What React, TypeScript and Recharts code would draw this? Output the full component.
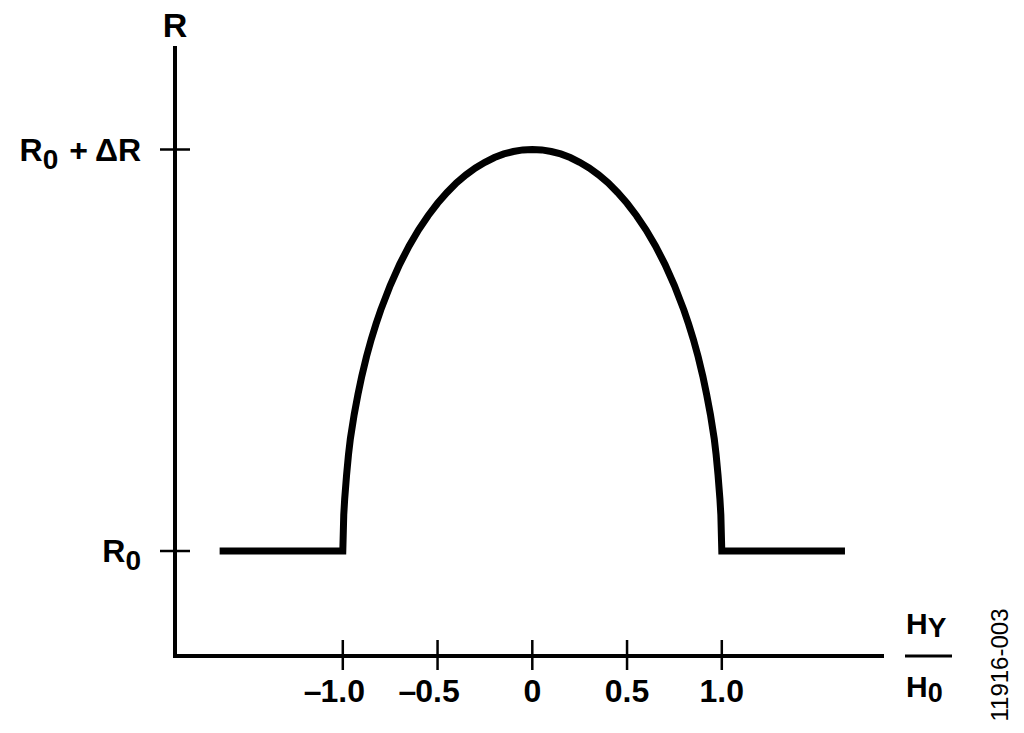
import { LineChart, Line, XAxis, YAxis, Customized } from 'recharts';

// H_Y / H_0 positions, with R in units of ΔR above R0
const hRatio = [
  -1.65, -1.0, -0.995, -0.99, -0.98, -0.97, -0.96, -0.94, -0.92, -0.9, -0.875, -0.85, -0.825,
  -0.8, -0.75, -0.7, -0.65, -0.6, -0.55, -0.5, -0.45, -0.4, -0.35, -0.3, -0.25, -0.2, -0.15,
  -0.1, -0.05, 0, 0.05, 0.1, 0.15, 0.2, 0.25, 0.3, 0.35, 0.4, 0.45, 0.5, 0.55, 0.6, 0.65, 0.7,
  0.75, 0.8, 0.825, 0.85, 0.875, 0.9, 0.92, 0.94, 0.96, 0.97, 0.98, 0.99, 0.995, 1.0, 1.65,
];
const resistance = [
  0, 0, 0.09, 0.13, 0.19, 0.24, 0.28, 0.34, 0.39, 0.435, 0.484, 0.527, 0.565,
  0.6, 0.661, 0.714, 0.76, 0.8, 0.835, 0.866, 0.893, 0.917, 0.937, 0.954, 0.968, 0.98, 0.989,
  0.995, 0.999, 1, 0.999, 0.995, 0.989, 0.98, 0.968, 0.954, 0.937, 0.917, 0.893, 0.866, 0.835,
  0.8, 0.76, 0.714, 0.661, 0.6, 0.565, 0.527, 0.484, 0.435, 0.39, 0.34, 0.28, 0.24, 0.19,
  0.13, 0.09, 0, 0,
];
const xTicks = [-1, -0.5, 0, 0.5, 1];
const xTickLabels = ['\u20131.0', '\u20130.5', '0', '0.5', '1.0'];
const yTicks = [0, 1];

const data = hRatio.map((h, i) => ({ h, r: resistance[i] }));

const FONT = '"Liberation Sans", Arial, sans-serif';
const TICK_FONT = 32;

function XTick({ x, y, index }: any) {
  const label: string = xTickLabels[index];
  const neg = label.startsWith('\u2013');
  const num = neg ? label.slice(1) : label;
  // digits 0.556em, point 0.278em: keep the number centred, let the dash hang left
  const half = (num.replace('.', '').length * 0.556 + (num.includes('.') ? 0.278 : 0)) * TICK_FONT / 2;
  const common = { fontFamily: FONT, fontWeight: 'bold', fontSize: TICK_FONT, fill: '#000' };
  return (
    <g>
      <line x1={x} x2={x} y1={y - 16} y2={y + 14} stroke="#000" strokeWidth={2.5} />
      <text x={x} y={y + 46} textAnchor="middle" {...common}>{num}</text>
      {neg && (
        <text x={x - half + 1} y={y + 46} textAnchor="end" {...common}>{'\u2013'}</text>
      )}
    </g>
  );
}

function YTick({ x, y, payload }: any) {
  const top = payload.value === 1;
  return (
    <g>
      <line x1={x - 15} x2={x + 15} y1={y} y2={y} stroke="#000" strokeWidth={2.5} />
      <text x={x - 34} y={y + 11} textAnchor="end" fontFamily={FONT} fontWeight="bold" fontSize={32} fill="#000">
        {top ? (
          <>
            <tspan>R</tspan>
            <tspan fontSize={28} dy={8}>0</tspan>
            <tspan dx={11} dy={-8}>+</tspan>
            <tspan dx={7}>{'\u0394R'}</tspan>
          </>
        ) : (
          <>
            <tspan>R</tspan>
            <tspan fontSize={28} dy={8}>0</tspan>
          </>
        )}
      </text>
    </g>
  );
}

function Labels() {
  return (
    <g fontFamily={FONT} fill="#000">
      <text x={175} y={37} textAnchor="middle" fontWeight="bold" fontSize={34}>R</text>
      <text x={906} y={634} fontWeight="bold" fontSize={30}>
        <tspan>H</tspan>
        <tspan fontSize={28} dy={3}>Y</tspan>
      </text>
      <line x1={905} x2={952} y1={656} y2={656} stroke="#000" strokeWidth={3} />
      <text x={906} y={697} fontWeight="bold" fontSize={30}>
        <tspan>H</tspan>
        <tspan fontSize={27} dy={5}>0</tspan>
      </text>
      <text x={1008} y={665} transform="rotate(-90 1008 665)" textAnchor="middle" fontSize={24}>
        11916-003
      </text>
    </g>
  );
}

export default function App() {
  return (
    <div style={{ position: 'absolute', left: 0, top: 0, background: '#fff' }}>
      <LineChart
        width={1024}
        height={733}
        data={data}
        margin={{ top: 48, right: 142, bottom: 76, left: 174 }}
      >
        <XAxis
          dataKey="h"
          type="number"
          domain={[-1.8855, 1.8454]}
          ticks={xTicks}
          height={1}
          tickSize={0}
          tickMargin={0}
          tickLine={false}
          tick={<XTick />}
          axisLine={{ stroke: '#000', strokeWidth: 4, strokeLinecap: 'square' }}
          allowDataOverflow
        />
        <YAxis
          type="number"
          domain={[-0.2615, 1.2528]}
          ticks={yTicks}
          width={1}
          tickSize={0}
          tickMargin={0}
          tickLine={false}
          tick={<YTick />}
          axisLine={{ stroke: '#000', strokeWidth: 4, strokeLinecap: 'square' }}
          allowDataOverflow
        />
        <Line
          dataKey="r"
          type="linear"
          stroke="#000"
          strokeWidth={7}
          strokeLinejoin="miter"
          strokeLinecap="butt"
          dot={false}
          activeDot={false}
          isAnimationActive={false}
        />
        <Customized component={Labels} />
      </LineChart>
    </div>
  );
}
